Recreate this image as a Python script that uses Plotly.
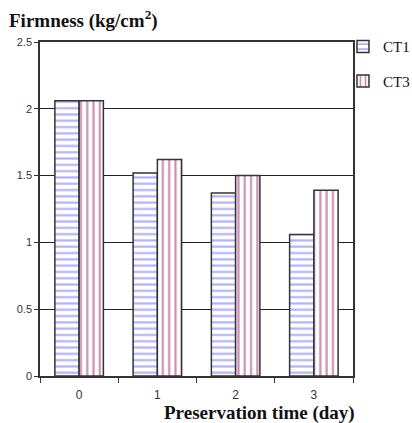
import plotly.graph_objects as go

days = ["0", "1", "2", "3"]
ct1 = [2.06, 1.52, 1.37, 1.06]
ct3 = [2.06, 1.62, 1.50, 1.39]
yticks = [0, 0.5, 1, 1.5, 2, 2.5]
ytick_text = ["0", "0.5", "1", "1.5", "2", "2.5"]

fig = go.Figure()
fig.add_trace(go.Bar(
    x=days, y=ct1, name="CT1", legendgroup="a",
    marker=dict(color="white", line=dict(color="#333333", width=1.5),
                pattern=dict(shape="-", fgcolor="#6666ff", bgcolor="white", size=6.3, solidity=0.35)),
))
fig.add_trace(go.Bar(
    x=days, y=ct3, name="CT3", legendgroup="b",
    marker=dict(color="white", line=dict(color="#333333", width=1.5),
                pattern=dict(shape="|", fgcolor="#992266", bgcolor="white", size=6.3, solidity=0.35)),
))

fig.update_layout(
    width=412, height=423,
    margin=dict(l=40, r=59, t=42, b=47, autoexpand=False),
    paper_bgcolor="white", plot_bgcolor="white",
    barmode="group", bargap=0.38, bargroupgap=0,
    showlegend=True,
    legend=dict(x=0.968, y=1.035, xanchor="left", yanchor="top",
                font=dict(family="Liberation Serif", size=15, color="#111"),
                traceorder="grouped", tracegroupgap=12, itemwidth=30,
                bgcolor="rgba(0,0,0,0)"),
    xaxis=dict(showline=True, linecolor="#333", linewidth=1.5, mirror=True,
               ticks="outside", ticklen=5, tickcolor="#333", tickson="boundaries",
               tickfont=dict(family="Liberation Sans", size=12, color="#333"),
               ticklabelstandoff=7, showgrid=False),
    yaxis=dict(range=[0, 2.5], tickvals=yticks, ticktext=ytick_text,
               showline=True, linecolor="#333", linewidth=1.5, mirror=True,
               ticks="outside", ticklen=4, tickcolor="#333",
               gridcolor="#222", gridwidth=1,
               tickfont=dict(family="Liberation Sans", size=11, color="#333"),
               zeroline=False),
    annotations=[
        dict(text="<b>Firmness (kg/cm<sup>2</sup>)</b>", xref="paper", yref="paper",
             x=-0.105, y=1.0, xanchor="left", yanchor="middle", yshift=23, showarrow=False,
             font=dict(family="Liberation Serif", size=19, color="#111")),
        dict(text="<b>Preservation time (day)</b>", xref="paper", yref="paper",
             x=0.70, y=0, xanchor="center", yanchor="middle", yshift=-37, showarrow=False,
             font=dict(family="Liberation Serif", size=19, color="#111")),
    ],
)

fig.write_html("out.html")
